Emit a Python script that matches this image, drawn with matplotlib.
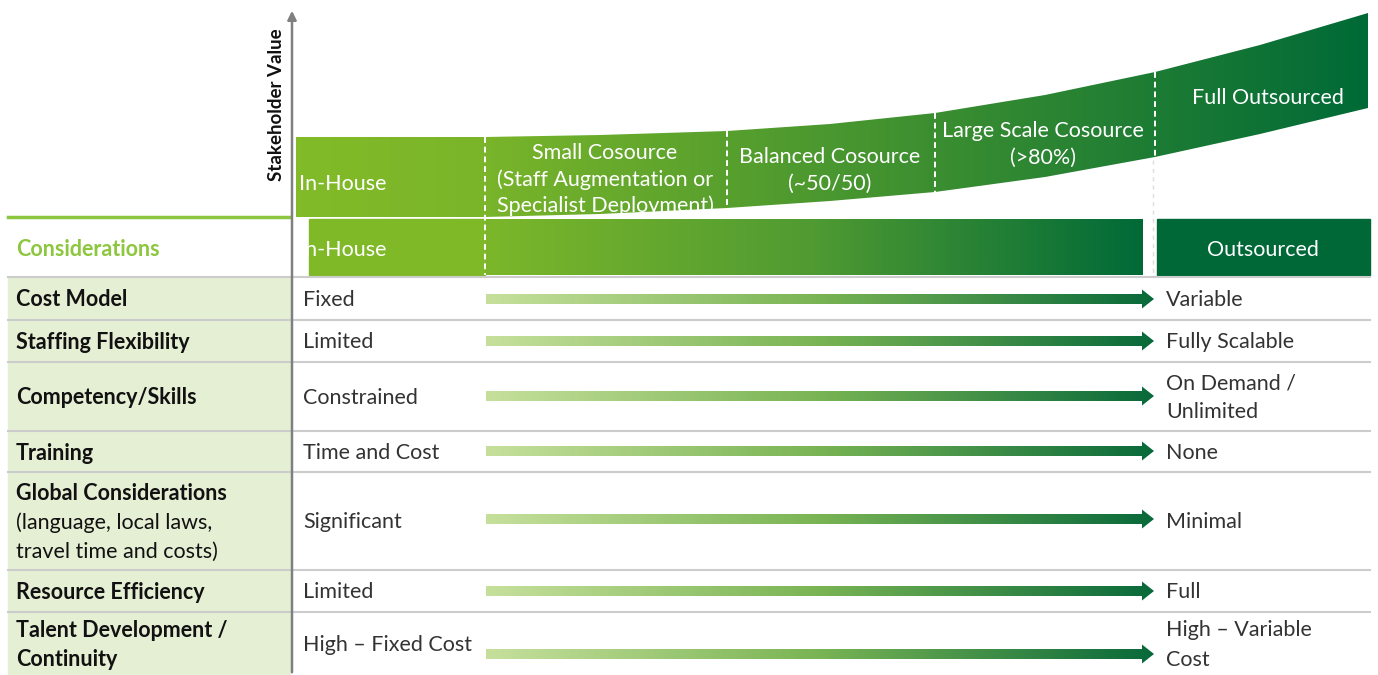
import numpy as np
import matplotlib
matplotlib.use("Agg")
import matplotlib.pyplot as plt
from matplotlib.patches import Polygon, Rectangle
from matplotlib.colors import LinearSegmentedColormap

plt.rcParams['font.family'] = ['Lato', 'DejaVu Sans']

# ---- content ----
stages = ["In-House",
          "Small Cosource\n(Staff Augmentation or\nSpecialist Deployment)",
          "Balanced Cosource\n(~50/50)",
          "Large Scale Cosource\n(>80%)",
          "Full Outsourced"]
considerations = ["Cost Model", "Staffing Flexibility", "Competency/Skills", "Training",
                  "Global Considerations", "Resource Efficiency", "Talent Development /\nContinuity"]
consideration_notes = ["", "", "", "", "(language, local laws,\ntravel time and costs)", "", ""]
inhouse_vals = ["Fixed", "Limited", "Constrained", "Time and Cost", "Significant", "Limited",
                "High \u2013 Fixed Cost"]
outsourced_vals = ["Variable", "Fully Scalable", "On Demand /\nUnlimited", "None", "Minimal", "Full",
                   "High \u2013 Variable\nCost"]

# ---- layout (pixels) ----
W, H = 1378, 675
stage_x = [296, 485, 727, 935, 1155, 1368]
edge_x = [485, 600, 727, 830, 935, 1045, 1155, 1260, 1368]
edge_top = [137, 135, 131, 124, 113, 95, 72, 45, 13]
edge_bot = [217, 214, 208, 201, 192, 177, 157, 134, 108]
row_edges = [277, 320, 362, 431, 472, 570, 612, 675]
arrow_y = [299, 341, 396, 451, 519, 591, 654]

light = "#80b928"
dark = "#006837"
band_cmap = LinearSegmentedColormap.from_list("band", [(0, "#82bb28"), (0.17, "#7ab52a"), (1, "#006a37")])
mid_cmap = LinearSegmentedColormap.from_list("mid", ["#7cb72a", "#4f9a32", "#006a38"])
arrow_cmap = LinearSegmentedColormap.from_list("arr", ["#c6e09c", "#79b454", "#08693a"])

FS = 15.5
DY = 1.5  # small baseline nudge

fig = plt.figure(figsize=(W / 100, H / 100), dpi=100)
ax = fig.add_axes([0, 0, 1, 1])


def grad_fill(patch, x0, x1, y0, y1, cmap):
    patch.set_facecolor("none")
    patch.set_edgecolor("none")
    ax.add_patch(patch)
    im = ax.imshow(np.linspace(0, 1, 256).reshape(1, -1), cmap=cmap, extent=[x0, x1, y1, y0],
                   aspect="auto", interpolation="bicubic", zorder=2)
    im.set_clip_path(patch)
    return patch


def lines(x, yc, s, step=29, **kw):
    parts = s.split("\n")
    y0 = yc - step * (len(parts) - 1) / 2 + DY
    out = []
    for k, p in enumerate(parts):
        out.append(ax.text(x, y0 + k * step, p, va="center", **kw))
    return out


# left column background and row lines
ax.add_patch(Rectangle((8, row_edges[0]), 282, H - row_edges[0], color="#e5efd4", zorder=1))
for y in row_edges[:-1]:
    ax.plot([8, 1370], [y, y], color="#cccccc", lw=1.5, zorder=3)
ax.plot([8, 290], [217, 217], color="#8dc63f", lw=2.5, zorder=3)

# top band: in-house block + rising curve
top_pts = [(stage_x[0], edge_top[0])] + list(zip(edge_x, edge_top))
bot_pts = list(zip(edge_x, edge_bot))[::-1] + [(stage_x[0], edge_bot[0])]
band = grad_fill(Polygon(top_pts + bot_pts, closed=True), stage_x[0], stage_x[-1], 0, 230, band_cmap)

# stage dividers
for x in stage_x[1:-1]:
    t = np.interp(x, edge_x, edge_top)
    b = np.interp(x, edge_x, edge_bot)
    if x == stage_x[1]:
        b = 275
    ax.plot([x, x], [t, b], color="white", lw=1.4, ls=(0, (3, 2)), zorder=4)
ax.plot([1153, 1153], [160, 276], color="#dddddd", lw=1, ls=(0, (3, 3)), zorder=1)

# stage labels
label_pos = [(299, 182, "left"), (605, 178, "center"), (830, 169, "center"),
             (1043, 143, "center"), (1268, 97, "center")]
for s, (x, y, ha) in zip(stages, label_pos):
    for t in lines(x, y, s, step=26.5, color="white", fontsize=FS, ha=ha, zorder=5):
        t.set_clip_path(band)

# second band
ax.add_patch(Rectangle((309, 219), 176, 56, color=light, zorder=2))
grad_fill(Rectangle((485, 219), 658, 56), 485, 1143, 219, 275, mid_cmap)
ax.add_patch(Rectangle((1157, 219), 213, 56, color=dark, zorder=2))
lines(299, 248, "In-House", color="white", fontsize=FS, zorder=5)
lines(1263, 248, "Outsourced", color="white", fontsize=FS, ha="center", zorder=5)
lines(16, 248, "Considerations", color="#8dc63f", fontsize=FS, fontweight="bold")

# rows
for i, name in enumerate(considerations):
    yc = (row_edges[i] + row_edges[i + 1]) / 2
    if consideration_notes[i]:
        lines(16, yc - 29, name, fontsize=FS, fontweight="bold", color="#111111")
        lines(16, yc + 14.5, consideration_notes[i], fontsize=FS, color="#111111")
    else:
        lines(16, yc, name, fontsize=FS, fontweight="bold", color="#111111")
    lines(303, yc, inhouse_vals[i], fontsize=FS, color="#333333")
    lines(1166, yc, outsourced_vals[i], fontsize=FS, color="#333333")

    y = arrow_y[i]
    x0, x1, hl = 486, 1154, 12
    pts = [(x0, y - 5), (x1 - hl, y - 5), (x1 - hl, y - 9.5), (x1, y), (x1 - hl, y + 9.5),
           (x1 - hl, y + 5), (x0, y + 5)]
    grad_fill(Polygon(pts, closed=True), x0, x1, y - 10, y + 10, arrow_cmap)

# stakeholder value axis
ax.annotate("", xy=(292, 8), xytext=(292, H),
            arrowprops=dict(arrowstyle="-|>", color="#808080", lw=1.8, mutation_scale=13), zorder=6)
ax.text(276, 105, "Stakeholder Value", rotation=90, fontsize=13.5, fontweight="bold",
        ha="center", va="center", color="#111111")

ax.set_xlim(0, W)
ax.set_ylim(H, 0)
ax.axis("off")
fig.savefig("out.png", dpi=100)
